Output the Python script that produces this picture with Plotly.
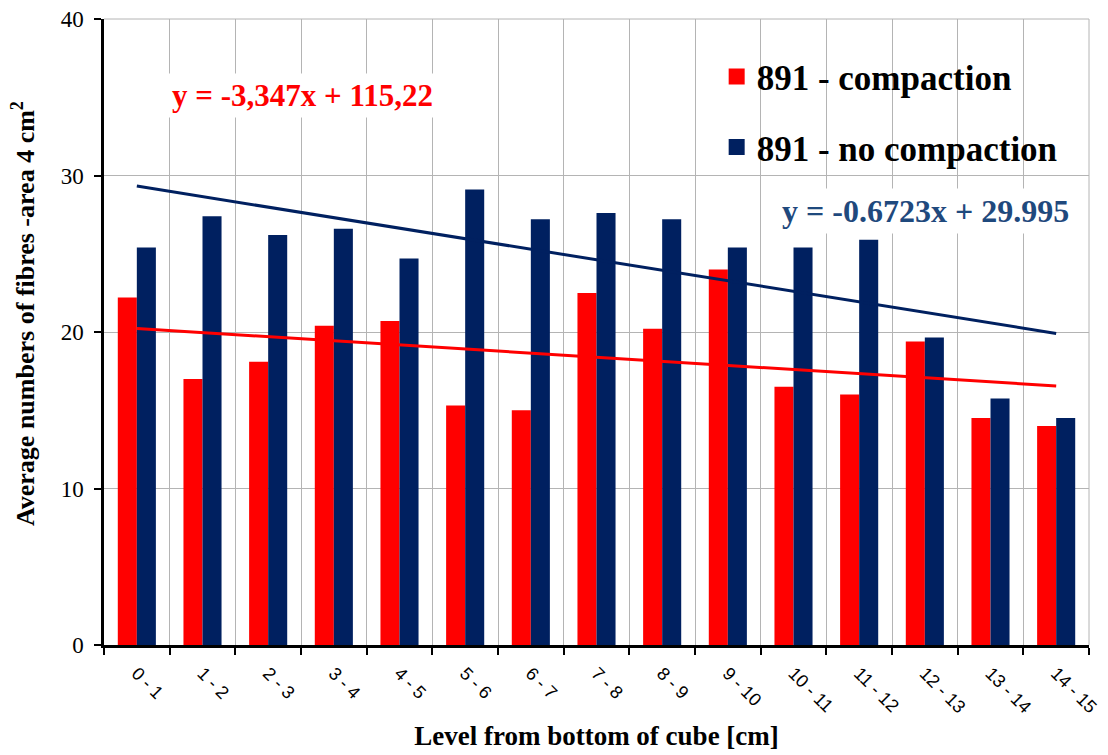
import numpy as np
import plotly.graph_objects as go

# Layers of the cube, from the bottom up
levels = ["0 - 1", "1 - 2", "2 - 3", "3 - 4", "4 - 5", "5 - 6", "6 - 7", "7 - 8",
          "8 - 9", "9 - 10", "10 - 11", "11 - 12", "12 - 13", "13 - 14", "14 - 15"]

# Average fibre counts over a 4 cm² section
compaction = [22.2, 17.0, 18.1, 20.4, 20.7, 15.3, 15.0, 22.5,
              20.2, 24.0, 16.5, 16.0, 19.4, 14.5, 14.0]
no_compaction = [25.4, 27.4, 26.2, 26.6, 24.7, 29.1, 27.2, 27.6,
                 27.2, 25.4, 25.4, 25.9, 19.65, 15.75, 14.5]

# Trendline coefficients for the uncompacted series (x = 1..15)
nc_slope, nc_intercept = -0.6723, 29.995
red_label = "y = -3,347x + 115,22"
blue_label = "y = -0.6723x + 29.995"
y_title = "Average numbers of fibres -area 4 cm<sup>2</sup>"
x_title = "Level from bottom of cube [cm]"

RED = "#FF0000"
NAVY = "#002060"
SERIF = "Liberation Serif, Times New Roman, serif"

xs = np.arange(1, len(levels) + 1)
c_slope, c_intercept = np.polyfit(xs, compaction, 1)
c_trend = c_slope * xs + c_intercept
nc_trend = nc_slope * xs + nc_intercept

fig = go.Figure()
fig.add_bar(x=levels, y=compaction, name="891 - compaction",
            marker=dict(color=RED, line=dict(width=0)), showlegend=False)
fig.add_bar(x=levels, y=no_compaction, name="891 - no compaction",
            marker=dict(color=NAVY, line=dict(width=0)), showlegend=False)
fig.add_scatter(x=levels, y=nc_trend, mode="lines", line=dict(color=NAVY, width=3),
                showlegend=False, hoverinfo="skip")
fig.add_scatter(x=levels, y=c_trend, mode="lines", line=dict(color=RED, width=3),
                showlegend=False, hoverinfo="skip")

# Legend entries with larger square swatches
fig.add_scatter(x=[None], y=[None], mode="markers", name="891 - compaction",
                marker=dict(symbol="square", size=16, color=RED), legendgroup="a")
fig.add_scatter(x=[None], y=[None], mode="markers", name="891 - no compaction",
                marker=dict(symbol="square", size=16, color=NAVY), legendgroup="b")

# White panel behind the legend, hiding the gridlines there
fig.add_shape(type="rect", xref="paper", yref="paper",
              x0=0.612, x1=0.990, y0=0.7515, y1=0.958,
              fillcolor="white", line=dict(width=0), layer="between")

fig.add_annotation(text=f"<b>{red_label}</b>", xref="paper", yref="paper",
                   x=0.064, y=0.877, xanchor="left", yanchor="middle", showarrow=False,
                   font=dict(family=SERIF, size=31, color=RED),
                   bgcolor="white", borderpad=4)
fig.add_annotation(text=f"<b>{blue_label}</b>", xref="paper", yref="paper",
                   x=0.683, y=0.693, xanchor="left", yanchor="middle", showarrow=False,
                   font=dict(family=SERIF, size=32, color="#1F497D"),
                   bgcolor="white", borderpad=4)

# Vertical axis title
fig.add_annotation(text=f"<b>{y_title}</b>", xref="paper", yref="paper",
                   x=-0.081, y=0.529, xanchor="center", yanchor="middle",
                   textangle=-90, showarrow=False,
                   font=dict(family=SERIF, size=26, color="black"))

fig.update_layout(
    width=1108, height=755,
    margin=dict(l=104, r=19, t=19, b=110, autoexpand=False),
    paper_bgcolor="white", plot_bgcolor="white",
    barmode="group", bargap=0.42, bargroupgap=0,
    font=dict(family=SERIF, color="black"),
    legend=dict(x=0.622, y=0.955, xanchor="left", yanchor="top",
                bgcolor="rgba(0,0,0,0)", traceorder="grouped", tracegroupgap=22,
                font=dict(family=SERIF, size=35, color="black", weight="bold"),
                itemwidth=30, itemsizing="trace"),
    showlegend=True,
)
fig.update_xaxes(
    type="category", tickson="boundaries", tickangle=45, automargin=False,
    ticks="outside", ticklen=7, tickwidth=2, tickcolor="black",
    showline=True, linecolor="black", linewidth=2.5, mirror=False,
    showgrid=True, gridcolor="#B4B4B4", gridwidth=1,
    ticklabelstandoff=8,
    tickfont=dict(family="Liberation Sans, Arial, sans-serif", size=18, color="black"),
    title=dict(text=f"<b>{x_title}</b>", standoff=10,
               font=dict(family=SERIF, size=27, color="black")),
)
fig.update_yaxes(
    range=[0, 40], dtick=10, automargin=False,
    ticks="outside", ticklen=7, tickwidth=2, tickcolor="black",
    showline=True, linecolor="black", linewidth=2.5,
    showgrid=True, gridcolor="#B4B4B4", gridwidth=1, zeroline=False,
    ticklabelstandoff=6,
    tickfont=dict(family=SERIF, size=23, color="black"),
)
# Thin frame on the top and right of the plot area
fig.add_shape(type="line", xref="paper", yref="paper", x0=0, x1=1, y0=1, y1=1,
              line=dict(color="#B4B4B4", width=1), layer="between")
fig.add_shape(type="line", xref="paper", yref="paper", x0=1, x1=1, y0=0, y1=1,
              line=dict(color="#B4B4B4", width=1), layer="between")

fig.write_html("out.html")
